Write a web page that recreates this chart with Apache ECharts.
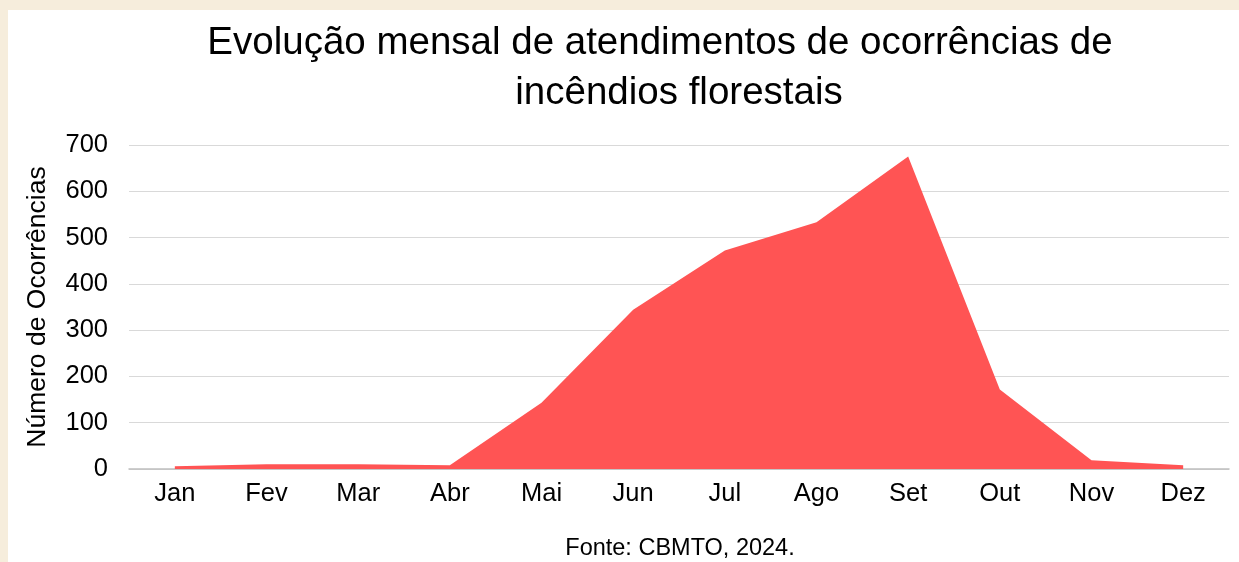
<!DOCTYPE html>
<html>
<head>
<meta charset="utf-8">
<script src="https://cdn.jsdelivr.net/npm/echarts@6/dist/echarts.min.js"></script>
<style>
html,body{margin:0;padding:0;background:#f6eddc;width:1239px;height:562px;overflow:hidden;}
#chart{position:absolute;left:8px;top:10px;width:1231px;height:552px;background:#ffffff;}
</style>
</head>
<body>
<div id="chart"></div>
<script>
var months = ['Jan','Fev','Mar','Abr','Mai','Jun','Jul','Ago','Set','Out','Nov','Dez'];
var occurrences = [6, 10, 10, 8, 143, 344, 472, 533, 675, 172, 19, 8];
var titleLines = ['Evolução mensal de atendimentos de ocorrências de', 'incêndios florestais'];
var yAxisTitle = 'Número de Ocorrências';
var sourceNote = 'Fonte: CBMTO, 2024.';

var FONT = '"Liberation Sans", Arial, sans-serif';
var chart = echarts.init(document.getElementById('chart'));
chart.setOption({
  animation: false,
  backgroundColor: '#ffffff',
  textStyle: { fontFamily: FONT },
  graphic: [
    { type: 'text', x: 652, y: 33, style: { text: titleLines[0], fill: '#000', font: '38.5px ' + FONT, textAlign: 'center', textVerticalAlign: 'middle' } },
    { type: 'text', x: 671, y: 83, style: { text: titleLines[1], fill: '#000', font: '38.5px ' + FONT, textAlign: 'center', textVerticalAlign: 'middle' } },
    { type: 'text', x: 672, y: 539, style: { text: sourceNote, fill: '#000', font: '23.5px ' + FONT, textAlign: 'center', textVerticalAlign: 'middle' } }
  ],
  grid: { left: 121, right: 10, top: 135, bottom: 93, containLabel: false },
  xAxis: {
    type: 'category',
    data: months,
    boundaryGap: true,
    axisLine: { show: true, lineStyle: { color: '#bfbfbf', width: 1.5 } },
    axisTick: { show: false },
    axisLabel: { color: '#000', fontSize: 25.5, margin: 12, fontFamily: FONT }
  },
  yAxis: {
    type: 'value',
    min: 0, max: 700, interval: 100,
    name: yAxisTitle,
    nameLocation: 'middle',
    nameGap: 78,
    nameRotate: 90,
    nameTextStyle: { color: '#000', fontSize: 26.5, fontFamily: FONT },
    axisLine: { show: false },
    axisTick: { show: false },
    axisLabel: { color: '#000', fontSize: 25.5, margin: 21, fontFamily: FONT },
    splitLine: { lineStyle: { color: '#d9d9d9', width: 1 } }
  },
  series: [{
    type: 'line',
    data: occurrences,
    symbol: 'none',
    lineStyle: { width: 0, color: '#ff5454' },
    itemStyle: { color: '#ff5454' },
    areaStyle: { color: '#ff5454', opacity: 1 }
  }]
});
</script>
</body>
</html>
